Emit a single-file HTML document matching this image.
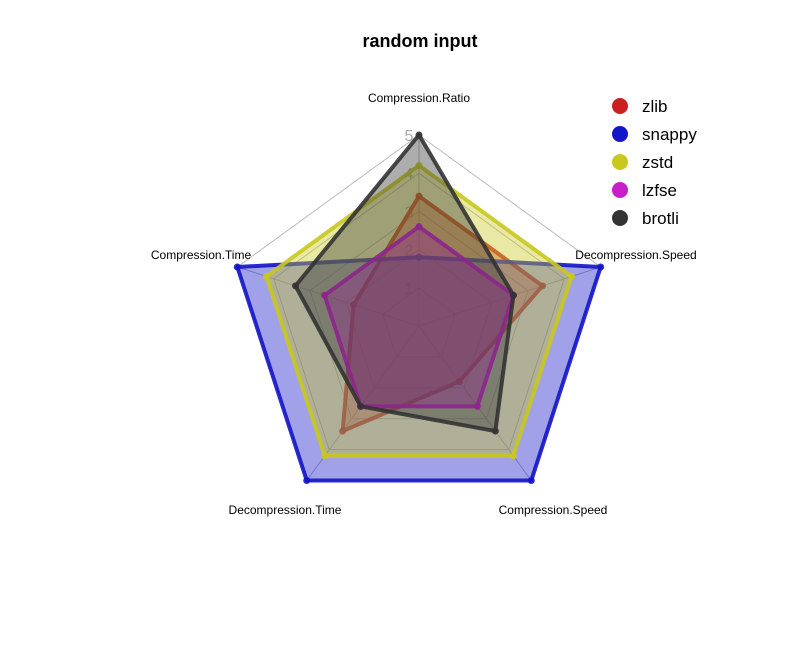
<!DOCTYPE html>
<html><head><meta charset="utf-8"><style>
body{margin:0;background:#fff;}
svg{display:block;font-family:"Liberation Sans",Arial,sans-serif;}
</style></head><body>
<svg id="chart" width="800" height="670" viewBox="0 0 800 670">
<text x="420" y="47" text-anchor="middle" font-size="18" font-weight="bold">random input</text>
<g id="grid"></g>
<g id="ticks"></g>
<g id="series"></g>
<g id="labels"></g>
<g id="legend"></g>
</svg>
<script>
const axes = ["Compression.Ratio","Decompression.Speed","Compression.Speed","Decompression.Time","Compression.Time"];
const seriesNames = ["zlib","snappy","zstd","lzfse","brotli"];
const zlibVals   = [3.4, 3.4, 1.8, 3.4, 1.8];
const snappyVals = [1.8, 5.0, 5.0, 5.0, 5.0];
const zstdVals   = [4.2, 4.2, 4.2, 4.2, 4.2];
const lzfseVals  = [2.6, 2.6, 2.6, 2.6, 2.6];
const brotliVals = [5.0, 2.6, 3.4, 2.6, 3.4];
const tickLabels = ["1","2","3","4","5"];
const maxVal = 5;

const allVals = [zlibVals, snappyVals, zstdVals, lzfseVals, brotliVals];
const colors = ["204,31,31","20,20,200","200,200,30","200,30,200","51,51,51"];
const NS = "http://www.w3.org/2000/svg";
const cx = 419, cy = 326, R = 191;
function ang(i){ return -Math.PI/2 + i*2*Math.PI/axes.length; }
function pt(i, v){ const r = v/maxVal*R; return [cx + r*Math.cos(ang(i)), cy + r*Math.sin(ang(i))]; }
function mk(tag, attrs, parent){ const e=document.createElementNS(NS,tag); for(const k in attrs) e.setAttribute(k,attrs[k]); parent.appendChild(e); return e; }

const grid = document.getElementById('grid');
for (let k=1;k<=tickLabels.length;k++){
  const pts = axes.map((a,i)=>pt(i,k*maxVal/tickLabels.length).join(',')).join(' ');
  const p = mk('polygon',{points:pts,fill:'none',stroke:'#bbb','stroke-width':1},grid);
  
  
}
axes.forEach((a,i)=>{
  const [x,y]=pt(i,maxVal);
  const l = mk('line',{x1:cx,y1:cy,x2:x,y2:y,stroke:'#bbb','stroke-width':1},grid);
  
  
});

const tg = document.getElementById('ticks');
tickLabels.forEach((t,k)=>{
  const [x,y]=pt(0,(k+1)*maxVal/tickLabels.length);
  const e = mk('text',{x:x-10,y:y+6,'text-anchor':'middle','font-size':16,fill:'#aaa'},tg);
  e.textContent=t;
  
  
});

const sg = document.getElementById('series');
allVals.forEach((vals,s)=>{
  const pts = vals.map((v,i)=>pt(i,v));
  const poly = mk('polygon',{points:pts.map(p=>p.join(',')).join(' '),fill:'rgba('+colors[s]+',0.4)',stroke:'rgba('+colors[s]+',0.9)','stroke-width':4,'stroke-linejoin':'round'},sg);
  
  
  pts.forEach(p=>{
    const c = mk('circle',{cx:p[0],cy:p[1],r:3.5,fill:'rgba('+colors[s]+',0.9)'},sg);
    
    
  });
});

const lg = document.getElementById('labels');
const labelPos = [[419,102,'middle'],[636,259,'middle'],[553,514,'middle'],[285,514,'middle'],[201,259,'middle']];
axes.forEach((a,i)=>{
  const e = mk('text',{x:labelPos[i][0],y:labelPos[i][1],'text-anchor':labelPos[i][2],'font-size':12,fill:'#000'},lg);
  e.textContent=a;
  
  
});

const leg = document.getElementById('legend');
seriesNames.forEach((n,s)=>{
  const y = 106 + s*28;
  const c = mk('circle',{cx:620,cy:y,r:8,fill:'rgba('+colors[s]+',1)'},leg);
  
  
  const t = mk('text',{x:642,y:y+6,'font-size':17,fill:'#000'},leg);
  t.textContent=n;
  
  
});
</script>
</body></html>
